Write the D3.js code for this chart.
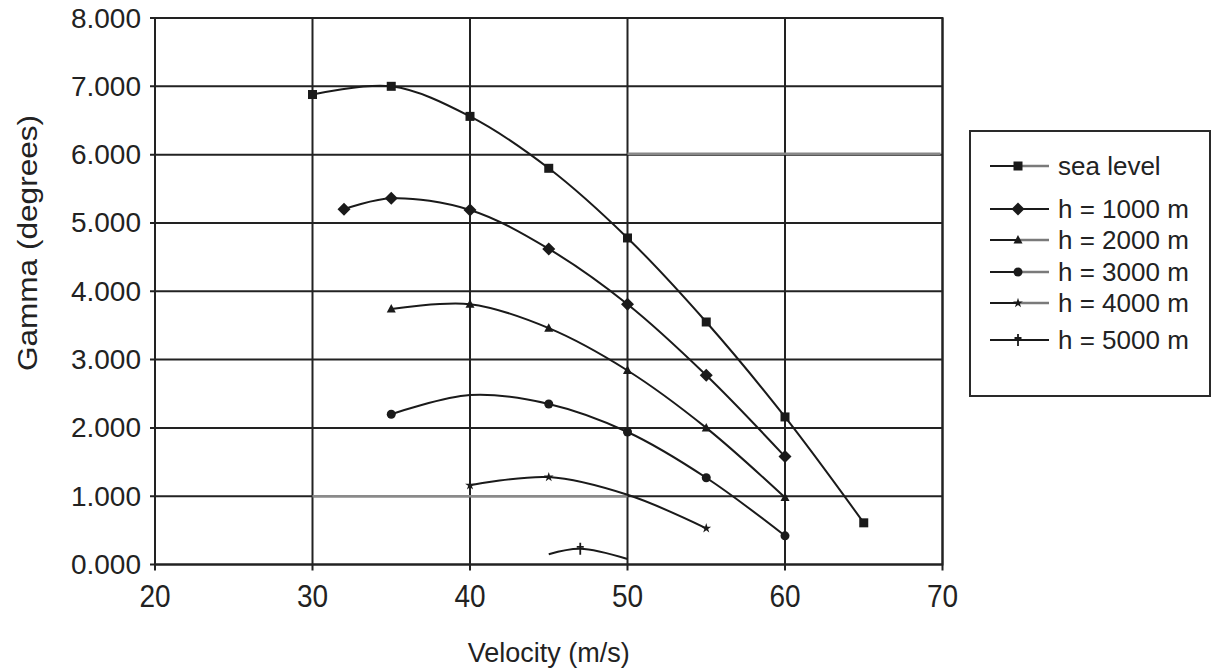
<!DOCTYPE html>
<html>
<head>
<meta charset="utf-8">
<script src="https://cdn.jsdelivr.net/npm/d3@7/dist/d3.min.js"></script>
<style>
  html, body { margin: 0; padding: 0; background: #fff; }
  svg { display: block; }
  text { font-family: "Liberation Sans", Arial, sans-serif; fill: #222; }
</style>
</head>
<body>
<svg id="chart" width="1212" height="672"></svg>
<script>
// ---- data: climb angle vs. velocity at several altitudes ----
const seriesNames = ["sea level", "h = 1000 m", "h = 2000 m", "h = 3000 m", "h = 4000 m", "h = 5000 m"];

const seaLevelV     = [30, 35, 40, 45, 50, 55, 60, 65];
const seaLevelGamma = [6.88, 7.00, 6.56, 5.80, 4.78, 3.55, 2.16, 0.61];

const h1000V     = [32, 35, 40, 45, 50, 55, 60];
const h1000Gamma = [5.20, 5.36, 5.19, 4.62, 3.81, 2.77, 1.58];

const h2000V     = [35, 40, 45, 50, 55, 60];
const h2000Gamma = [3.74, 3.81, 3.46, 2.84, 2.00, 0.98];

const h3000V     = [35, 40, 45, 50, 55, 60];
const h3000Gamma = [2.20, 2.48, 2.35, 1.94, 1.27, 0.42];

const h4000V     = [40, 45, 50, 55];
const h4000Gamma = [1.16, 1.28, 1.02, 0.53];

const h5000V     = [45, 47, 50];
const h5000Gamma = [0.15, 0.23, 0.08];

// velocities at which a marker is drawn for each series
const seaLevelMarked = [30, 35, 40, 45, 50, 55, 60, 65];
const h1000Marked    = [32, 35, 40, 45, 50, 55, 60];
const h2000Marked    = [35, 40, 45, 50, 55, 60];
const h3000Marked    = [35, 45, 50, 55, 60];
const h4000Marked    = [40, 45, 55];
const h5000Marked    = [47];

const xTicks = [20, 30, 40, 50, 60, 70];
const yTicks = [0, 1, 2, 3, 4, 5, 6, 7, 8];
const xTitle = "Velocity (m/s)";
const yTitle = "Gamma (degrees)";

// ---- assemble series ----
const seriesV      = [seaLevelV, h1000V, h2000V, h3000V, h4000V, h5000V];
const seriesGamma  = [seaLevelGamma, h1000Gamma, h2000Gamma, h3000Gamma, h4000Gamma, h5000Gamma];
const seriesMarked = [seaLevelMarked, h1000Marked, h2000Marked, h3000Marked, h4000Marked, h5000Marked];
const series = seriesNames.map((name, i) => ({
  name,
  points: seriesV[i].map((v, j) => ({ v, g: seriesGamma[i][j] })),
  marked: seriesV[i].map((v, j) => ({ v, g: seriesGamma[i][j] })).filter(p => seriesMarked[i].includes(p.v))
}));

// ---- layout ----
const plot = { left: 155, right: 942.5, top: 18, bottom: 564.5 };
const ink = "#1a1a1a";
const gridInk = "#222";
const markerKinds = ["square", "diamond", "triangle", "circle", "star", "dagger"];

const svg = d3.select("#chart");

const x = d3.scaleLinear().domain([20, 70]).range([plot.left, plot.right]);
const y = d3.scaleLinear().domain([0, 8]).range([plot.bottom, plot.top]);

// ---- grid ----
const grid = svg.append("g");
grid.selectAll("line.gx").data(xTicks).join("line")
  .attr("x1", d => x(d)).attr("x2", d => x(d))
  .attr("y1", plot.top).attr("y2", plot.bottom + 6)
  .attr("stroke", gridInk).attr("stroke-width", 2);
grid.selectAll("line.gy").data(yTicks).join("line")
  .attr("x1", plot.left - 5).attr("x2", plot.right)
  .attr("y1", d => y(d)).attr("y2", d => y(d))
  .attr("stroke", gridInk).attr("stroke-width", 2);

// softer stretches of two grid lines
grid.append("line")
  .attr("x1", x(50)).attr("x2", x(70) - 2)
  .attr("y1", y(6) - 1).attr("y2", y(6) - 1)
  .attr("stroke", "#888").attr("stroke-width", 2.5);
grid.append("line")
  .attr("x1", x(30)).attr("x2", x(50))
  .attr("y1", y(1)).attr("y2", y(1))
  .attr("stroke", "#8a8a8a").attr("stroke-width", 2.5);

// ---- tick labels ----
svg.append("g").selectAll("text").data(yTicks).join("text")
  .attr("x", 141).attr("y", d => y(d))
  .attr("text-anchor", "end").attr("dominant-baseline", "central")
  .attr("font-size", 28)
  .text(d => d3.format(".3f")(d));

svg.append("g").selectAll("text").data(xTicks).join("text")
  .attr("text-anchor", "middle")
  .attr("font-size", 28)
  .attr("transform", d => `translate(${x(d)},607) scale(1,1.15)`)
  .text(d => d);

// ---- axis titles ----
svg.append("text")
  .attr("text-anchor", "middle")
  .attr("font-size", 27)
  .attr("transform", `translate(${(plot.left + plot.right) / 2},662)`)
  .text(xTitle);

svg.append("text")
  .attr("text-anchor", "middle")
  .attr("font-size", 27)
  .attr("transform", "translate(37,243) rotate(-90) scale(1.17,1)")
  .text(yTitle);

// ---- curves ----
const line = d3.line()
  .x(d => x(d.v)).y(d => y(d.g))
  .curve(d3.curveCatmullRom.alpha(0.5));

svg.append("g").selectAll("path").data(series).join("path")
  .attr("d", d => line(d.points))
  .attr("fill", "none").attr("stroke", ink).attr("stroke-width", 2);

// ---- markers ----
function drawMarker(g, kind, cx, cy) {
  if (kind === "square") {
    g.append("rect").attr("x", cx - 4.5).attr("y", cy - 4.5).attr("width", 9).attr("height", 9).attr("fill", ink);
  } else if (kind === "diamond") {
    g.append("path").attr("d", `M${cx},${cy - 6.5}L${cx + 6.5},${cy}L${cx},${cy + 6.5}L${cx - 6.5},${cy}Z`).attr("fill", ink);
  } else if (kind === "triangle") {
    g.append("path").attr("d", `M${cx},${cy - 5}L${cx + 4.5},${cy + 3.5}L${cx - 4.5},${cy + 3.5}Z`).attr("fill", ink);
  } else if (kind === "circle") {
    g.append("circle").attr("cx", cx).attr("cy", cy).attr("r", 4.5).attr("fill", ink);
  } else if (kind === "star") {
    g.append("path").attr("d", d3.symbol(d3.symbolStar, 30)()).attr("transform", `translate(${cx},${cy})`).attr("fill", ink);
  } else if (kind === "dagger") {
    g.append("path").attr("d", `M${cx},${cy - 6}V${cy + 6}M${cx - 3.5},${cy - 2}H${cx + 3.5}`)
      .attr("stroke", ink).attr("stroke-width", 1.8).attr("fill", "none");
  }
}

const markerLayer = svg.append("g");
series.forEach((s, i) => {
  s.marked.forEach(p => drawMarker(markerLayer, markerKinds[i], x(p.v), y(p.g)));
});

// ---- plot frame ----
svg.append("rect")
  .attr("x", plot.left).attr("y", plot.top)
  .attr("width", plot.right - plot.left).attr("height", plot.bottom - plot.top)
  .attr("fill", "none").attr("stroke", gridInk).attr("stroke-width", 2);

// ---- legend ----
const legendBox = { x: 970, y: 131, w: 241, h: 265 };
const legendRowY = [166, 209, 240, 272, 303, 340];
const legendSoftTail = [true, false, true, true, true, false];
const legend = svg.append("g");
legend.append("rect")
  .attr("x", legendBox.x).attr("y", legendBox.y)
  .attr("width", legendBox.w - 1).attr("height", legendBox.h)
  .attr("fill", "#fff").attr("stroke", "#2a2a2a").attr("stroke-width", 2);

series.forEach((s, i) => {
  const ry = legendRowY[i];
  legend.append("line").attr("x1", 990).attr("x2", 1018).attr("y1", ry).attr("y2", ry)
    .attr("stroke", ink).attr("stroke-width", 2);
  legend.append("line").attr("x1", 1018).attr("x2", 1049).attr("y1", ry).attr("y2", ry)
    .attr("stroke", legendSoftTail[i] ? "#7a7a7a" : ink).attr("stroke-width", legendSoftTail[i] ? 2.5 : 2);
  drawMarker(legend, markerKinds[i], 1018, ry);
  legend.append("text")
    .attr("x", 1058).attr("y", ry)
    .attr("dominant-baseline", "central")
    .attr("font-size", 26)
    .text(s.name);
});
</script>
</body>
</html>
